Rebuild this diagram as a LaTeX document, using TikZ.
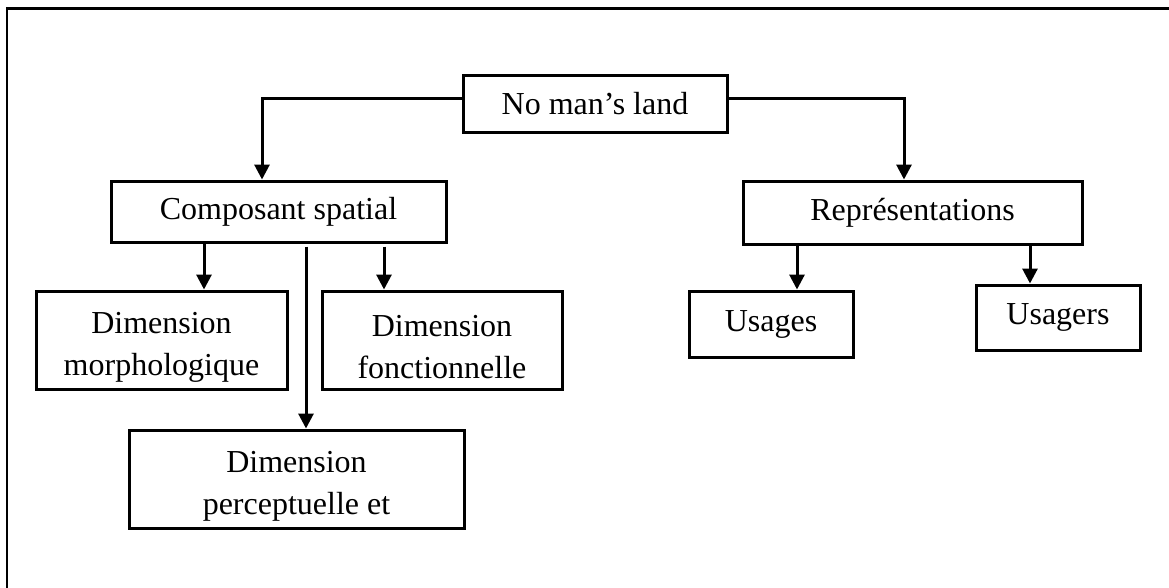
\documentclass[tikz,border=0pt]{standalone}
\usepackage{fontspec}
\setmainfont{Liberation Serif}
\usetikzlibrary{arrows.meta}

\tikzset{
    box/.style={shape=rectangle, draw=black, line width=3pt, inner sep=0pt,
        align=center, font=\fontsize{32}{42}\selectfont},
    twoline/.style={text depth=0pt, yshift=0pt},
    >={Triangle[length=15pt, width=15pt]}
}

\begin{document}
\begin{tikzpicture}[x=1pt, y=-1pt, line width=3pt]

            \useasboundingbox (0,0) rectangle (1169,587);
            \draw[line width=2.4pt] (7,600) -- (7,8.5) -- (1180,8.5);

            \node[box, minimum width=264pt, minimum height=57pt] (Root) at (595,103.5) {No man’s land};
            \node[box, minimum width=335pt, minimum height=61pt] (Comp) at (278.5,211.5) {Composant spatial};
            \node[box, minimum width=339pt, minimum height=63pt] (Repr) at (912.5,212.5) {Représentations};

            \node[box, minimum width=251pt, minimum height=98pt] (Morph) at (161.5,340) {\rule{0pt}{36pt}Dimension\\morphologique};
            \node[box, minimum width=240pt, minimum height=98pt] (Fonct) at (442,340) {\rule{0pt}{36pt}Dimension\\fonctionnelle};
            \node[box, minimum width=335pt, minimum height=98pt] (Perc) at (296.5,479) {\rule{0pt}{36pt}Dimension\\perceptuelle et};
            \node[box, minimum width=164pt, minimum height=66pt] (Usages) at (771,324) {Usages};
            \node[box, minimum width=164pt, minimum height=65pt] (Usagers) at (1058,317.5) {Usagers};

            % x positions of the connectors
            \coordinate (xComp) at (262,0);
            \coordinate (xRepr) at (904,0);
            \coordinate (xMorph) at (204,0);
            \coordinate (xPerc) at (306,0);
            \coordinate (xFonct) at (384,0);
            \coordinate (xUsages) at (797,0);
            \coordinate (xUsagers) at (1030,0);

            \draw[->] ([yshift=5.5pt]Root.west) -| (Comp.north -| xComp);
            \draw[->] ([yshift=5.5pt]Root.east) -| (Repr.north -| xRepr);

            \path[->](Comp.south -| xMorph) edge (Morph.north -| xMorph);
            \path[->]([yshift=-3pt]Comp.south -| xPerc) edge (Perc.north -| xPerc);
            \path[->]([yshift=-3pt]Comp.south -| xFonct) edge (Fonct.north -| xFonct);

            \path[->](Repr.south -| xUsages) edge (Usages.north -| xUsages);
            \path[->](Repr.south -| xUsagers) edge (Usagers.north -| xUsagers);
        \end{tikzpicture}
\end{document}
